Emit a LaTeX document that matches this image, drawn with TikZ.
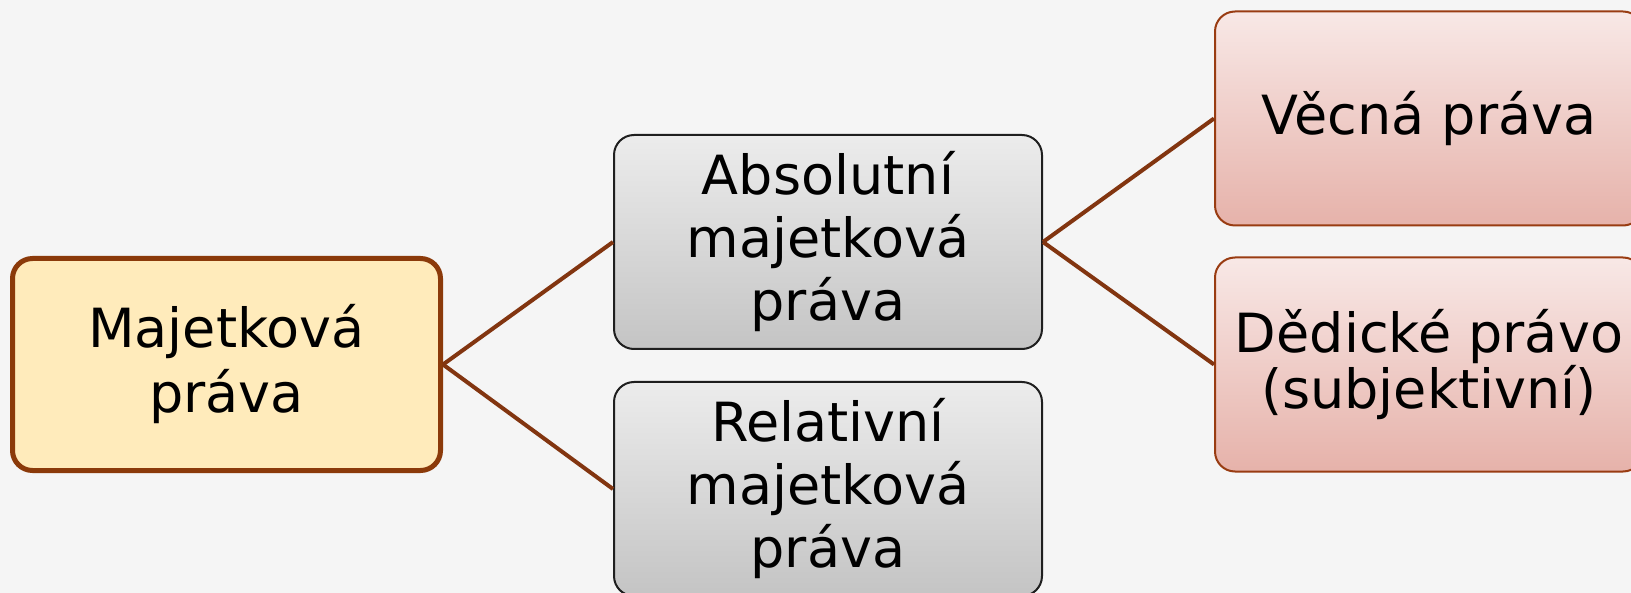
\documentclass[tikz,border=0pt]{standalone}
\usepackage{fontspec}
\setmainfont{DejaVu Sans}
\definecolor{bg}{HTML}{F5F5F5}
\definecolor{rootfill}{HTML}{FFEBBB}
\definecolor{rootedge}{HTML}{8B3A0A}
\definecolor{midtop}{HTML}{ECECEC}
\definecolor{midbot}{HTML}{C4C4C4}
\definecolor{midedge}{HTML}{1F1F1F}
\definecolor{leaftop}{HTML}{F8E8E6}
\definecolor{leafbot}{HTML}{E6B2AA}
\definecolor{leafedge}{HTML}{993C12}
\definecolor{linkcol}{HTML}{823510}
\begin{document}
\begin{tikzpicture}[x=1pt,y=-1pt,
  box/.style={rounded corners=20pt, minimum width=428pt, minimum height=214pt,
    inner sep=0pt, align=center, font=\fontsize{54}{63}\selectfont},
  rootbox/.style={box, draw=rootedge, line width=5pt, fill=rootfill,
    minimum height=212pt, font=\fontsize{54}{65}\selectfont},
  midbox/.style={box, draw=midedge, line width=2pt, top color=midtop, bottom color=midbot},
  leafbox/.style={box, draw=leafedge, line width=2pt, top color=leaftop, bottom color=leafbot},
  link/.style={draw=linkcol, line width=4pt}]
  % canvas
  \fill[bg] (0,0) rectangle (1631,593);
  \useasboundingbox (0,0) rectangle (1631,593);

  % tree nodes
  \node[rootbox] (root) at (226.5,364.5) {Majetková\\práva};
  \node[midbox]  (abs)  at (828,242)     {Absolutní\\majetková\\práva};
  \node[midbox]  (rel)  at (828,489)     {Relativní\\majetková\\práva};
  \node[leafbox] (vec)  at (1429,118.5)  {Věcná práva};
  \node[leafbox, font=\fontsize{54}{56}\selectfont] (ded) at (1429,364.5)
    {Dědické právo\\(subjektivní)};

  % connectors
  \draw[link] (root.east) -- (abs.west);
  \draw[link] (root.east) -- (rel.west);
  \draw[link] (abs.east) -- (vec.west);
  \draw[link] (abs.east) -- (ded.west);
\end{tikzpicture}
\end{document}
